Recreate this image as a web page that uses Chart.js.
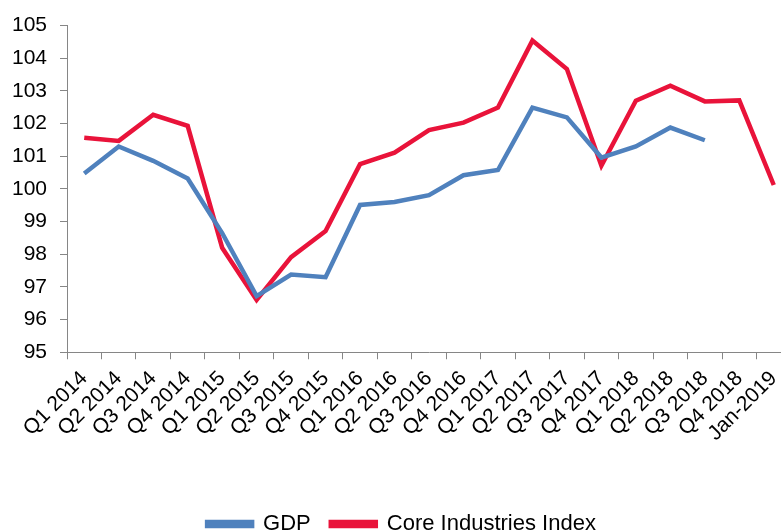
<!DOCTYPE html>
<html>
<head>
<meta charset="utf-8">
<script src="https://cdn.jsdelivr.net/npm/chart.js@4/dist/chart.umd.min.js"></script>
<style>
  html, body { margin: 0; padding: 0; background: #fff; overflow: hidden; }
  #wrap { width: 800px; height: 545px; }
</style>
</head>
<body>
<div id="wrap"><canvas id="chart"></canvas></div>
<script>
const categories = [
  "Q1 2014", "Q2 2014", "Q3 2014", "Q4 2014",
  "Q1 2015", "Q2 2015", "Q3 2015", "Q4 2015",
  "Q1 2016", "Q2 2016", "Q3 2016", "Q4 2016",
  "Q1 2017", "Q2 2017", "Q3 2017", "Q4 2017",
  "Q1 2018", "Q2 2018", "Q3 2018", "Q4 2018",
  "Jan-2019"
];
const gdp = [
  100.47, 101.30, 100.86, 100.32,
  98.65, 96.72, 97.38, 97.30,
  99.51, 99.60, 99.81, 100.42,
  100.58, 102.49, 102.19, 100.96,
  101.30, 101.88, 101.49, null,
  null
];
const coreIndex = [
  101.57, 101.47, 102.27, 101.93,
  98.20, 96.60, 97.91, 98.71,
  100.76, 101.11, 101.80, 102.03,
  102.49, 104.54, 103.67, 100.71,
  102.70, 103.16, 102.68, 102.71,
  100.12
];
const yTicks = [95, 96, 97, 98, 99, 100, 101, 102, 103, 104, 105];

const BLUE = "#4f81bd";
const RED = "#e9133a";
const AXIS = "#868686";

Chart.defaults.font.family = "'Liberation Sans', Arial, sans-serif";
Chart.defaults.color = "#000";

new Chart(document.getElementById("chart"), {
  type: "line",
  data: {
    labels: categories,
    datasets: [
      {
        label: "GDP",
        data: gdp,
        borderColor: BLUE,
        backgroundColor: BLUE,
        borderWidth: 4.5,
        pointRadius: 0,
        tension: 0
      },
      {
        label: "Core Industries Index",
        data: coreIndex,
        borderColor: RED,
        backgroundColor: RED,
        borderWidth: 4.5,
        pointRadius: 0,
        tension: 0
      }
    ]
  },
  options: {
    responsive: true,
    maintainAspectRatio: false,
    animation: false,
    layout: { padding: { left: 12, right: 9, top: 14, bottom: 0 } },
    plugins: {
      legend: {
        position: "bottom",
        labels: {
          boxWidth: 45,
          boxHeight: 4,
          padding: 20,
          font: { size: 22 },
          color: "#000"
        }
      },
      tooltip: { enabled: false }
    },
    scales: {
      x: {
        offset: true,
        afterFit(scale) {
          // let the rotated labels hang past the plot's left edge, as in the source
          scale.paddingLeft = 0;
          scale.paddingRight = 0;
          scale.height += 40;
        },
        grid: {
          offset: true,
          drawOnChartArea: false,
          drawTicks: true,
          tickLength: 7,
          color: AXIS
        },
        border: { display: true, color: AXIS, width: 1 },
        ticks: {
          autoSkip: false,
          minRotation: 45,
          maxRotation: 45,
          padding: 7,
          font: { size: 21 },
          color: "#000"
        }
      },
      y: {
        min: 95,
        max: 105,
        afterBuildTicks(scale) {
          scale.ticks = yTicks.map(v => ({ value: v }));
        },
        afterFit(scale) {
          scale.width = 55;
        },
        grid: {
          drawOnChartArea: false,
          drawTicks: true,
          tickLength: 7,
          color: AXIS
        },
        border: { display: true, color: AXIS, width: 1 },
        ticks: {
          padding: 13,
          font: { size: 21 },
          color: "#000"
        }
      }
    }
  }
});
</script>
</body>
</html>
